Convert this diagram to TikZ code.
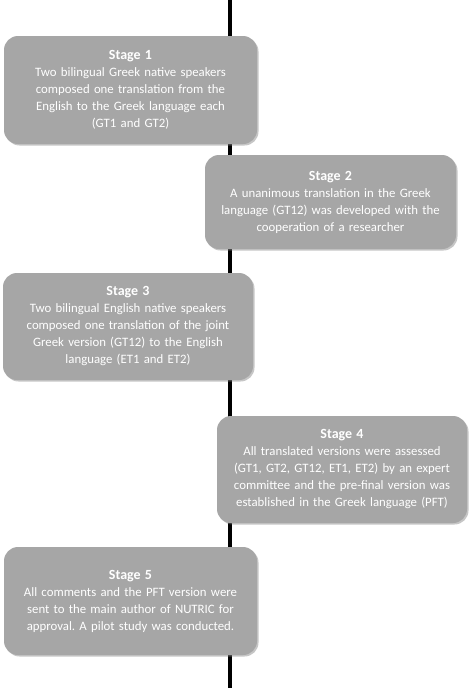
\documentclass[tikz,border=0pt]{standalone}
\usepackage{fontspec}
\setmainfont{Carlito}
\usepackage{tikz}
\usetikzlibrary{shadows}
\frenchspacing
\definecolor{boxGrey}{RGB}{166,166,166}
\tikzstyle{timeline} = [x = 1pt, y = -1pt]
\tikzstyle{stageStyle} = [draw=none, fill=boxGrey, rounded corners = 14pt, inner sep = 0pt, align = center, text = white, font = \fontsize{12.8}{17}\selectfont, drop shadow = {opacity = .45, shadow xshift = 1.5pt, shadow yshift = -1.5pt}]
\tikzstyle{timeLine} = [color=black, line width = 3.5pt]
\newcommand{\stageTitle}[1]{{\fontsize{14}{17.5}\selectfont\bfseries Stage #1}}
\newcommand{\stageBox}[6]{\node [stageStyle, minimum width = #3pt, minimum height = #4pt, text width = #5pt] (stage#1) at (#2) {\stageTitle{#1}\\#6};}

\begin{document}
\begin{tikzpicture}[timeline]
  \useasboundingbox (0,0) rectangle (474,688);
  \coordinate (lineTop) at (230,0);
  \coordinate (lineBottom) at (230,688);
  \draw [timeLine] (lineTop) -- (lineBottom);

  \stageBox{1}{130.5,90}{253}{108}{246}{Two bilingual Greek native speakers\\composed one translation from the\\English to the Greek language each\\(GT1 and GT2)}
  \stageBox{2}{330.5,202}{251}{94}{246}{A unanimous translation in the Greek\\language (GT12) was developed with the\\cooperation of a researcher}
  \stageBox{3}{128,326.5}{250}{107}{246}{Two bilingual English native speakers\\composed one translation of the joint\\Greek version (GT12) to the English\\language (ET1 and ET2)}
  \stageBox{4}{342,469.5}{250}{107}{246}{All translated versions were assessed\\(GT1, GT2, GT12, ET1, ET2) by an expert\\committee and the pre-final version was\\established in the Greek language (PFT)}
  \stageBox{5}{130.5,601}{253}{108}{246}{All comments and the PFT version were\\sent to the main author of NUTRIC for\\approval. A pilot study was conducted.}
\end{tikzpicture}
\end{document}
